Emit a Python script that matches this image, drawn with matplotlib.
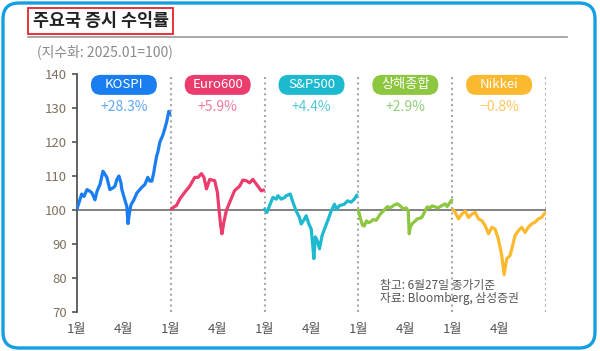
import matplotlib.pyplot as plt
from matplotlib.patches import FancyBboxPatch
from matplotlib.lines import Line2D
from matplotlib.transforms import ScaledTranslation

plt.rcParams['font.family'] = ['Noto Sans CJK KR', 'DejaVu Sans']

names = ['KOSPI', 'Euro600', 'S&P500', '상해종합', 'Nikkei']
returns = ['+28.3%', '+5.9%', '+4.4%', '+2.9%', '\u22120.8%']
colors = ['#1a7ef0', '#ea3d6d', '#1cb9cf', '#8dc63f', '#fbb92f']
ret_colors = ['#62a8f4', '#f07b9c', '#55c9d9', '#92cf7a', '#fcc860']
month_labels = ['1월', '4월']

# months since Jan 1 (2025) and index level (2025.01 = 100)
kospi_m = [0.0, 0.3, 0.45, 0.64, 0.83, 0.96, 1.15, 1.28, 1.47, 1.66, 1.79, 1.91,
           2.1, 2.3, 2.43, 2.55, 2.68, 2.81, 2.87, 3.06, 3.19, 3.26, 3.35, 3.45,
           3.64, 3.83, 4.02, 4.15, 4.34, 4.53, 4.66, 4.79, 4.91, 4.98, 5.1, 5.17,
           5.3, 5.49, 5.62, 5.74, 5.87, 5.94]
kospi_v = [100.3, 104.7, 104.0, 106.0, 105.5, 105.0, 103.0, 105.5, 107.5, 111.4, 110.5, 109.6,
           106.0, 106.5, 107.0, 109.0, 110.0, 108.0, 106.0, 103.0, 101.0, 96.0, 99.0, 101.5,
           103.0, 105.0, 106.0, 106.7, 107.5, 109.6, 108.5, 108.5, 111.0, 113.0, 116.0, 117.0,
           120.0, 122.0, 124.0, 126.0, 129.0, 128.3]

euro_m = [0.04, 0.2, 0.36, 0.57, 0.89, 1.21, 1.53, 1.74, 1.96, 2.12, 2.28, 2.49,
          2.81, 2.98, 3.08, 3.19, 3.27, 3.4, 3.55, 3.77, 4.08, 4.4, 4.61, 4.83,
          5.04, 5.25, 5.57, 5.79, 5.93]
euro_v = [100.3, 100.9, 101.3, 103.2, 105.2, 107.0, 109.6, 109.6, 110.7, 109.6, 106.2, 109.0,
          108.6, 105.2, 100.3, 95.4, 93.0, 96.5, 99.8, 102.3, 105.7, 107.0, 108.8, 108.6,
          108.0, 109.0, 107.0, 105.6, 105.9]

spx_m = [0.0, 0.15, 0.32, 0.53, 0.75, 0.85, 1.07, 1.28, 1.39, 1.64, 1.81, 2.02,
         2.23, 2.34, 2.55, 2.66, 2.83, 2.98, 3.08, 3.15, 3.25, 3.4, 3.51, 3.68,
         3.83, 4.04, 4.26, 4.47, 4.61, 4.79, 5.1, 5.31, 5.53, 5.74, 5.9]
spx_v = [100.2, 99.3, 101.3, 103.7, 103.2, 104.2, 103.2, 103.7, 104.2, 104.7, 102.3, 99.7,
         97.8, 95.9, 97.3, 98.3, 95.9, 94.4, 89.6, 85.7, 92.1, 90.6, 88.6, 92.5,
         94.4, 96.9, 99.7, 101.7, 100.2, 101.3, 101.7, 102.7, 102.3, 103.2, 104.4]

sh_m = [0.0, 0.13, 0.26, 0.38, 0.51, 0.64, 0.77, 0.96, 1.15, 1.4, 1.66, 1.85,
        2.04, 2.3, 2.49, 2.68, 2.87, 3.06, 3.19, 3.25, 3.32, 3.45, 3.64, 3.77,
        3.96, 4.08, 4.27, 4.4, 4.59, 4.72, 4.91, 5.1, 5.3, 5.55, 5.68, 5.87, 5.97]
sh_v = [100.0, 97.5, 95.5, 95.3, 96.8, 96.3, 96.5, 97.2, 97.0, 98.8, 100.0, 101.0,
        100.6, 101.5, 101.8, 101.2, 100.3, 100.6, 99.7, 93.0, 95.0, 96.0, 96.8, 97.4,
        97.6, 98.0, 99.8, 100.9, 100.7, 101.2, 100.9, 100.6, 101.2, 101.8, 101.0, 102.3, 102.9]

nk_m = [0.04, 0.19, 0.4, 0.62, 0.83, 1.04, 1.26, 1.47, 1.68, 1.89, 2.11, 2.32,
        2.53, 2.74, 2.95, 3.17, 3.32, 3.49, 3.7, 3.87, 4.02, 4.23, 4.45, 4.66,
        4.87, 5.08, 5.3, 5.51, 5.72, 5.93]
nk_v = [100.2, 99.3, 97.4, 98.8, 99.7, 97.8, 98.8, 99.3, 97.4, 96.9, 95.4, 93.0,
        94.9, 94.4, 91.5, 86.6, 81.0, 85.7, 86.6, 89.6, 92.5, 93.9, 94.9, 93.4,
        94.9, 95.9, 96.4, 97.4, 97.8, 99.2]

series = [(kospi_m, kospi_v), (euro_m, euro_v), (spx_m, spx_v), (sh_m, sh_v), (nk_m, nk_v)]

fig = plt.figure(figsize=(6, 3.51), dpi=100)

# outer blue rounded frame
fig.add_artist(FancyBboxPatch((0.03, 0.03), 5.92, 3.45, boxstyle='round,pad=0,rounding_size=0.16',
                              transform=fig.dpi_scale_trans, fc='none', ec='#13a0e3', lw=2.4))

# title with red box and grey rule
fig.add_artist(FancyBboxPatch((0.28, 3.17), 1.45, 0.26, boxstyle='square,pad=0',
                              transform=fig.dpi_scale_trans, fc='none', ec='#e3242b', lw=1.3))
fig.text(101 / 600, 1 - 21 / 351, '주요국 증시 수익률', ha='center', va='center',
         fontsize=12.5, fontweight='bold', color='#222222')
fig.add_artist(Line2D([28 / 600, 567 / 600], [1 - 37 / 351, 1 - 37 / 351],
                      color='#9a9a9a', lw=1.2))
fig.text(37 / 600, 1 - 52 / 351, '(지수화: 2025.01=100)', ha='left', va='center',
         fontsize=10, color='#8a8a8a')

ax = fig.add_axes([77 / 600, 1 - 312 / 351, 469 / 600, 238 / 351])
ax.set_xlim(0, 30)
ax.set_ylim(70, 140)
ax.patch.set_alpha(0)

for x in [6, 12, 18, 24, 30]:
    ax.axvline(x, color='#a8a8a8', ls=(0, (1, 1.6)), lw=1.5, zorder=1)
ax.axhline(100, color='#777777', lw=1.3, zorder=2)

for i, (m, v) in enumerate(series):
    ax.plot([i * 6 + t for t in m], v, color=colors[i], lw=2.3, zorder=3,
            solid_joinstyle='round', solid_capstyle='round')

    cx = i * 6 + 3
    tr = fig.dpi_scale_trans + ScaledTranslation(cx, 136.8, ax.transData)
    ax.add_artist(FancyBboxPatch((-0.33, -0.1), 0.66, 0.2, boxstyle='round,pad=0,rounding_size=0.1',
                                 transform=tr, fc=colors[i], ec='none', clip_on=False, zorder=4))
    ax.text(cx, 136.8, names[i], ha='center', va='center', color='white', fontsize=9.5, zorder=5)
    ax.text(cx, 130.4, returns[i], ha='center', va='center', color=ret_colors[i], fontsize=10, zorder=5)

ax.text(19.4, 77.8, '참고: 6월27일 종가기준', ha='left', va='center', fontsize=8.5, color='#555555')
ax.text(19.4, 74.0, '자료: Bloomberg, 삼성증권', ha='left', va='center', fontsize=8.5, color='#555555')

for s in ['top', 'right', 'bottom']:
    ax.spines[s].set_visible(False)
ax.spines['left'].set_color('#555555')
ax.spines['left'].set_linewidth(1.3)

ax.set_yticks(range(70, 141, 10))
ax.tick_params(axis='y', length=3.5, width=1.2, color='#555555', pad=4, labelsize=9.5, labelcolor='#7f705f')
ax.set_xticks(range(0, 30, 3))
ax.set_xticklabels(month_labels * 5)
ax.tick_params(axis='x', length=0, pad=8, labelsize=9.5, labelcolor='#555555')

fig.savefig('out.png', dpi=100)
